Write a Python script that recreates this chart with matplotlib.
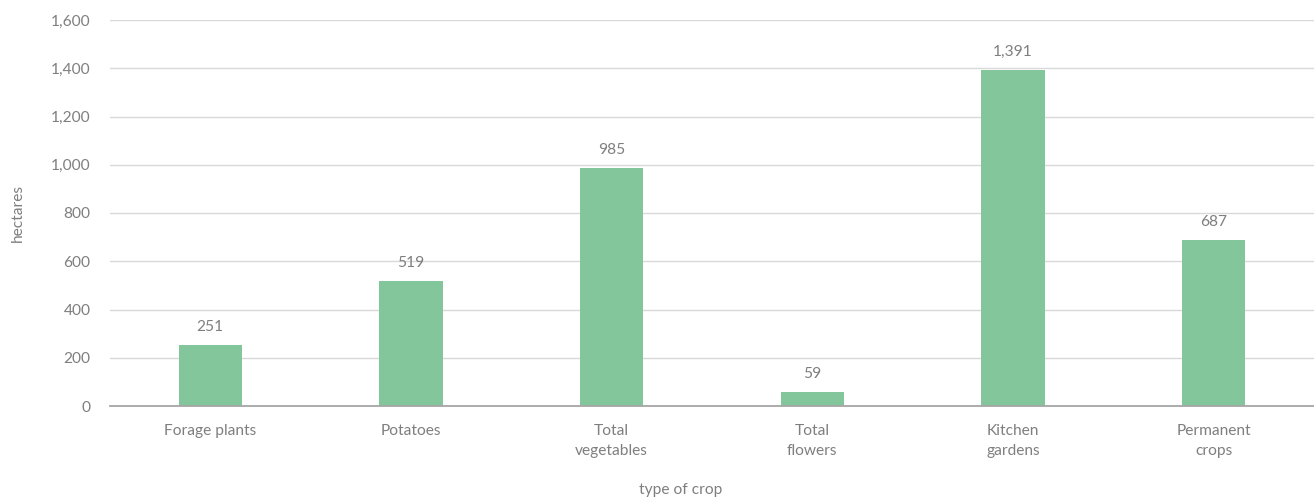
import matplotlib
matplotlib.use("Agg")
import matplotlib.pyplot as plt
import numpy as np

categories = ["Forage plants", "Potatoes", "Total\nvegetables", "Total\nflowers",
              "Kitchen\ngardens", "Permanent\ncrops"]
hectares = [251, 519, 985, 59, 1391, 687]
y_ticks = [0, 200, 400, 600, 800, 1000, 1200, 1400, 1600]

plt.rcParams['font.family'] = ['Lato', 'DejaVu Sans']
text_color = '#7f7f7f'
fs = 11.2

fig = plt.figure(figsize=(13.14, 5), dpi=100)
ax = fig.add_axes([0.0837, 0.188, 0.9163, 0.772])

x = np.arange(len(categories))
bars = ax.bar(x, hectares, width=0.315, color='#84c69b', zorder=2)

for bar, v in zip(bars, hectares):
    ax.annotate(f'{v:,}', xy=(bar.get_x() + bar.get_width() / 2, v),
                xytext=(0, 8), textcoords='offset points',
                ha='center', va='bottom', fontsize=fs, color=text_color)

ax.set_xlim(-0.5, len(categories) - 0.5)
ax.set_ylim(0, 1600)
ax.set_yticks(y_ticks)
ax.set_yticklabels([f'{t:,}' for t in y_ticks])
ax.set_xticks(x)
ax.set_xticklabels(categories, linespacing=1.5)
ax.tick_params(axis='both', length=0, labelsize=fs, labelcolor=text_color)
ax.tick_params(axis='y', pad=14)
ax.tick_params(axis='x', pad=13)

ax.grid(axis='y', color='#d9d9d9', linewidth=1, zorder=0)
for side in ['top', 'right', 'left']:
    ax.spines[side].set_visible(False)
ax.spines['bottom'].set_color('#a6a6a6')
ax.spines['bottom'].set_linewidth(1.3)

fig.text(18 / 1314, 1 - 213 / 500, 'hectares', rotation=90, ha='center', va='center',
         fontsize=fs, color=text_color)
fig.text(681 / 1314, 1 - 490 / 500, 'type of crop', ha='center', va='center',
         fontsize=fs, color=text_color)

fig.savefig('out.png', dpi=100)
